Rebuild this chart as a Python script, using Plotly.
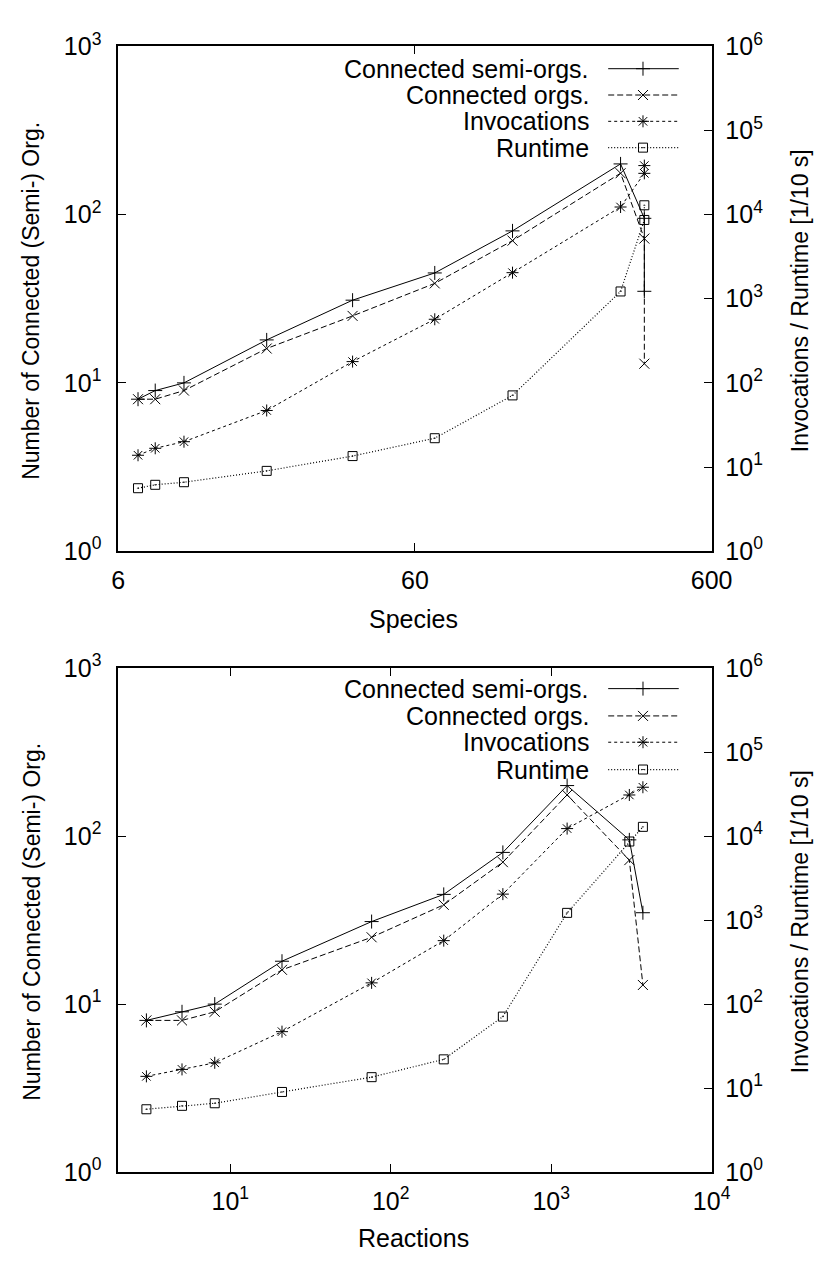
import plotly.graph_objects as go

W, H = 837, 1267

# ---------------- data ----------------
species = [7, 8, 10, 19, 37, 70, 128, 296, 356, 356]
reactions = [3, 5, 8, 21, 76, 214, 500, 1257, 3070, 3730]
semi_orgs = [8, 9, 10, 18, 31, 45, 80, 200, 95, 35]
conn_orgs = [8, 8, 9, 16, 25, 39, 70, 176, 72, 13]
invocations = [13.8, 16.7, 20, 47, 179, 570, 2040, 12300, 30900, 38200]
runtime = [5.6, 6.15, 6.6, 9.0, 13.5, 22, 71, 1220, 8630, 12900]

series_names = ["Connected semi-orgs.", "Connected orgs.", "Invocations", "Runtime"]
series_values = [semi_orgs, conn_orgs, invocations, runtime]
series_right = [False, False, True, True]

left_ticks = [1, 10, 100, 1000]
left_ticktext = ["10<sup>0</sup>", "10<sup>1</sup>", "10<sup>2</sup>", "10<sup>3</sup>"]
right_ticks = [1, 10, 100, 1000, 10000, 100000, 1000000]
right_ticktext = ["10<sup>%d</sup>" % i for i in range(7)]
species_ticks = [6, 60, 600]
species_ticktext = ["6", "60", "600"]
reac_ticks = [10, 100, 1000, 10000]
reac_ticktext = ["10<sup>1</sup>", "10<sup>2</sup>", "10<sup>3</sup>", "10<sup>4</sup>"]

# ---------------- styles ----------------
FONT = "Liberation Sans, Arial, Helvetica, sans-serif"
FS = 25
FSV = 23
styles = [
    dict(dash="solid", symbol="cross-thin-open", size=10, color="black", width=1),
    dict(dash="6px,3px", symbol="x-thin-open", size=10, color="black", width=1),
    dict(dash="3px,3px", symbol="asterisk-open", size=10, color="black", width=1),
    dict(dash="1px,2px", symbol="square-open-dot", size=9, color="black", width=1.2),
]

fig = go.Figure()

panels = [
    dict(xdata=species, xa="x", yl="y", yr="y2"),
    dict(xdata=reactions, xa="x2", yl="y3", yr="y4"),
]
for p in panels:
    for name, vals, right, st in zip(series_names, series_values, series_right, styles):
        fig.add_trace(go.Scatter(
            x=p["xdata"], y=vals, name=name, mode="lines+markers",
            xaxis=p["xa"], yaxis=p["yr"] if right else p["yl"],
            line=dict(color=st["color"], width=st["width"], dash=st["dash"]),
            marker=dict(symbol=st["symbol"], size=st["size"], color="black",
                        line=dict(color="black", width=1)),
            showlegend=False, cliponaxis=False,
        ))

# ---------------- manual gnuplot-style keys ----------------
key_rows = [[52, 79, 106, 133], [688, 716, 743, 771]]
KEY_TEXT_X = 604
KEY_X0, KEY_XM, KEY_X1 = 622, 658, 695
annotations = []
for rows in key_rows:
    for name, st, ry in zip(series_names, styles, rows):
        yy = 1 - ry / H
        annotations.append(dict(text=name, x=KEY_TEXT_X / W, y=yy, xref="paper", yref="paper",
                                xanchor="right", yanchor="middle", showarrow=False,
                                font=dict(family=FONT, size=FS, color="black")))
        fig.add_trace(go.Scatter(x=[KEY_X0 / W, KEY_X1 / W], y=[yy, yy], mode="lines",
                                 xaxis="x3", yaxis="y5", showlegend=False, hoverinfo="skip",
                                 line=dict(color=st["color"], width=st["width"], dash=st["dash"])))
        fig.add_trace(go.Scatter(x=[KEY_XM / W], y=[yy], mode="markers",
                                 xaxis="x3", yaxis="y5", showlegend=False, hoverinfo="skip",
                                 marker=dict(symbol=st["symbol"], size=st["size"], color="black",
                                             line=dict(color="black", width=1))))

# ---------------- axis titles as annotations ----------------
titles = [
    ("Species", 421, 617, 0, FS),
    ("Reactions", 421, 1252, 0, FS),
    ("Number of Connected (Semi-) Org.", 25, 290, -90, FSV),
    ("Number of Connected (Semi-) Org.", 25, 927, -90, FSV),
    ("Invocations / Runtime [1/10 s]", 820, 290, -90, FSV),
    ("Invocations / Runtime [1/10 s]", 820, 927, -90, FSV),
]
for t, x, y, ang, fs in titles:
    annotations.append(dict(text=t, x=x / W, y=1 - y / H, xref="paper", yref="paper",
                            xanchor="center", yanchor="middle", showarrow=False, textangle=ang,
                            font=dict(family=FONT, size=fs, color="black")))

# ---------------- axes ----------------
XD = [115 / W, 729 / W]
TOPY = [1 - 547 / H, 1 - 29 / H]
BOTY = [1 - 1184 / H, 1 - 667 / H]

def minors(mults, decades, lo, hi):
    return [m * 10 ** d for d in decades for m in mults if lo < m * 10 ** d < hi]

base = dict(type="log", showgrid=False, zeroline=False, showline=True, linecolor="black",
            linewidth=1.5, ticks="inside", ticklen=8, tickwidth=1, tickcolor="black",
            tickfont=dict(family=FONT, size=FS, color="black"), tickmode="array")
minor_base = dict(type="log", showgrid=False, zeroline=False, showline=False,
                  ticks="inside", ticklen=4, tickwidth=1, tickcolor="black",
                  showticklabels=False, tickmode="array")

XR_TOP = [0.7781513, 2.7781513]
XR_BOT = [0.30103, 4]

fig.update_layout(
    xaxis=dict(base, domain=XD, anchor="y", range=XR_TOP, ticklabelstandoff=6,
               tickvals=species_ticks, ticktext=species_ticktext, mirror="ticks"),
    yaxis=dict(base, domain=TOPY, anchor="x", range=[0, 3], tickvals=left_ticks,
               ticktext=left_ticktext, mirror=True, ticklabelstandoff=10),
    yaxis2=dict(base, domain=TOPY, anchor="x", overlaying="y", side="right", range=[0, 6],
                tickvals=right_ticks, ticktext=right_ticktext, ticklabelstandoff=7),
    xaxis2=dict(base, domain=XD, anchor="y3", range=XR_BOT, ticklabelstandoff=6,
                tickvals=reac_ticks, ticktext=reac_ticktext, mirror="ticks"),
    yaxis3=dict(base, domain=BOTY, anchor="x2", range=[0, 3], tickvals=left_ticks,
                ticktext=left_ticktext, mirror=True, ticklabelstandoff=10),
    yaxis4=dict(base, domain=BOTY, anchor="x2", overlaying="y3", side="right", range=[0, 6],
                tickvals=right_ticks, ticktext=right_ticktext, ticklabelstandoff=7),
    # minor tick overlays
    xaxis4=dict(minor_base, domain=XD, anchor="y", overlaying="x", range=XR_TOP, mirror="ticks",
                tickvals=[6 * k for k in range(2, 10)] + [60 * k for k in range(2, 10)]),
    yaxis6=dict(minor_base, domain=TOPY, anchor="x", overlaying="y", range=[0, 3],
                tickvals=minors(range(2, 10), range(0, 3), 1, 1000)),
    yaxis7=dict(minor_base, domain=TOPY, anchor="x", overlaying="y", side="right", range=[0, 6],
                tickvals=minors([2, 5, 8], range(0, 6), 1, 1e6)),
    xaxis5=dict(minor_base, domain=XD, anchor="y3", overlaying="x2", range=XR_BOT, mirror="ticks",
                tickvals=minors(range(2, 10), range(0, 4), 2.01, 1e4)),
    yaxis8=dict(minor_base, domain=BOTY, anchor="x2", overlaying="y3", range=[0, 3],
                tickvals=minors(range(2, 10), range(0, 3), 1, 1000)),
    yaxis9=dict(minor_base, domain=BOTY, anchor="x2", overlaying="y3", side="right", range=[0, 6],
                tickvals=minors([2, 5, 8], range(0, 6), 1, 1e6)),
    # hidden axes for the key samples
    xaxis3=dict(domain=[0, 1], range=[0, 1], visible=False, anchor="y5", fixedrange=True),
    yaxis5=dict(domain=[0, 1], range=[0, 1], visible=False, anchor="x3", fixedrange=True),
    annotations=annotations,
    width=W, height=H, margin=dict(l=0, r=0, t=0, b=0),
    paper_bgcolor="white", plot_bgcolor="rgba(0,0,0,0)",
    font=dict(family=FONT, size=FS, color="black"),
)

fig.write_html("out.html")
